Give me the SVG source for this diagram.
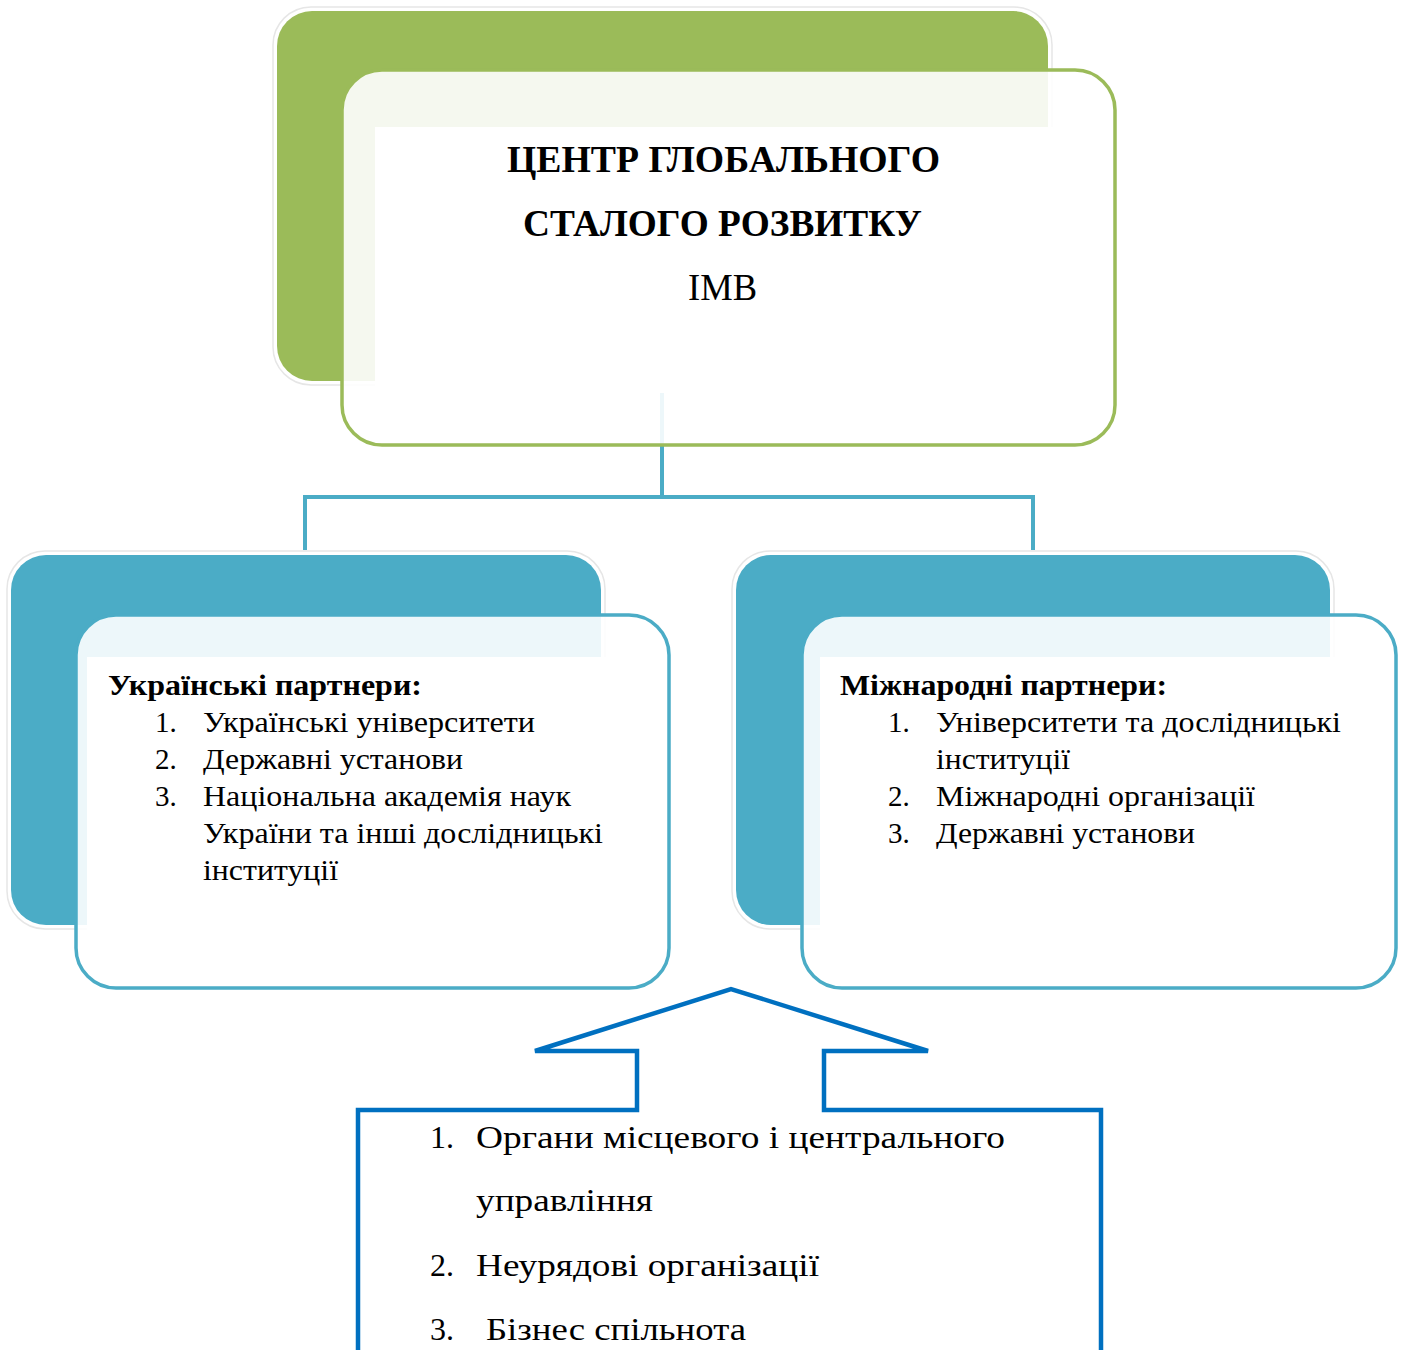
<svg xmlns="http://www.w3.org/2000/svg" width="1405" height="1350" viewBox="0 0 1405 1350">
<style>
  .t { font-family: "Liberation Serif", "Times New Roman", serif; fill: #000; }
  .b { font-weight: bold; }
  .h1 { font-size: 37px; }
  .s { font-size: 29px; }
  .m { font-size: 32px; }
  .halo { fill: none; stroke: #e6e6e6; stroke-width: 1.5; }
  .conn { fill: none; stroke: #4bacc6; stroke-width: 4; }
</style>
<rect width="1405" height="1350" fill="#fff"/>

<g id="connectors">
  <path class="conn" d="M662 393 V497 M305 550 V497 H1033 V550"/>
</g>

<g id="node-center">
  <rect class="halo" x="273" y="7" width="779" height="378" rx="38"/>
  <rect x="277" y="11" width="771" height="370" rx="35" fill="#9bbb59"/>
  <rect x="342" y="70" width="773" height="375" rx="40" fill="#fff" fill-opacity="0.9" stroke="#9bbb59" stroke-width="3.5"/>
  <rect x="375" y="127" width="700" height="265" fill="#fff"/>
  <text class="t b h1" x="507" y="172" textLength="433" lengthAdjust="spacingAndGlyphs">ЦЕНТР ГЛОБАЛЬНОГО</text>
  <text class="t b h1" x="523" y="236" textLength="399" lengthAdjust="spacingAndGlyphs">СТАЛОГО РОЗВИТКУ</text>
  <text class="t h1" x="688" y="300" textLength="69" lengthAdjust="spacingAndGlyphs">IMB</text>
</g>

<g id="node-ukrainian">
  <rect class="halo" x="7" y="551" width="598" height="378" rx="38"/>
  <rect x="11" y="555" width="590" height="370" rx="35" fill="#4bacc6"/>
  <rect x="76" y="615" width="593" height="373" rx="40" fill="#fff" fill-opacity="0.9" stroke="#4bacc6" stroke-width="3.5"/>
  <rect x="87" y="657" width="575" height="275" fill="#fff"/>
  <text class="t b s" x="108" y="695" textLength="314" lengthAdjust="spacingAndGlyphs">Українські партнери:</text>
  <text class="t s" x="155" y="732">1.</text>
  <text class="t s" x="203" y="732" textLength="332" lengthAdjust="spacingAndGlyphs">Українські університети</text>
  <text class="t s" x="155" y="769">2.</text>
  <text class="t s" x="203" y="769" textLength="260" lengthAdjust="spacingAndGlyphs">Державні установи</text>
  <text class="t s" x="155" y="806">3.</text>
  <text class="t s" x="203" y="806" textLength="368" lengthAdjust="spacingAndGlyphs">Національна академія наук</text>
  <text class="t s" x="203" y="843" textLength="400" lengthAdjust="spacingAndGlyphs">України та інші дослідницькі</text>
  <text class="t s" x="203" y="880" textLength="135" lengthAdjust="spacingAndGlyphs">інституції</text>
</g>

<g id="node-international">
  <rect class="halo" x="732" y="551" width="602" height="378" rx="38"/>
  <rect x="736" y="555" width="594" height="370" rx="35" fill="#4bacc6"/>
  <rect x="802" y="615" width="594" height="373" rx="40" fill="#fff" fill-opacity="0.9" stroke="#4bacc6" stroke-width="3.5"/>
  <rect x="820" y="657" width="570" height="275" fill="#fff"/>
  <text class="t b s" x="840" y="695" textLength="327" lengthAdjust="spacingAndGlyphs">Міжнародні партнери:</text>
  <text class="t s" x="888" y="732">1.</text>
  <text class="t s" x="936" y="732" textLength="405" lengthAdjust="spacingAndGlyphs">Університети та дослідницькі</text>
  <text class="t s" x="936" y="769" textLength="134" lengthAdjust="spacingAndGlyphs">інституції</text>
  <text class="t s" x="888" y="806">2.</text>
  <text class="t s" x="936" y="806" textLength="319" lengthAdjust="spacingAndGlyphs">Міжнародні організації</text>
  <text class="t s" x="888" y="843">3.</text>
  <text class="t s" x="936" y="843" textLength="259" lengthAdjust="spacingAndGlyphs">Державні установи</text>
</g>

<g id="node-local">
  <path d="M358 1352 V1110 H637 V1051 H535 L731 989 L928 1051 H824 V1110 H1101 V1352" fill="#fff" stroke="#0070c0" stroke-width="4.5" stroke-linejoin="miter"/>
  <text class="t m" x="430" y="1148">1.</text>
  <text class="t m" x="476" y="1148" textLength="529" lengthAdjust="spacingAndGlyphs">Органи місцевого і центрального</text>
  <text class="t m" x="476" y="1211" textLength="177" lengthAdjust="spacingAndGlyphs">управління</text>
  <text class="t m" x="430" y="1276">2.</text>
  <text class="t m" x="476" y="1276" textLength="343" lengthAdjust="spacingAndGlyphs">Неурядові організації</text>
  <text class="t m" x="430" y="1340">3.</text>
  <text class="t m" x="486" y="1340" textLength="260" lengthAdjust="spacingAndGlyphs">Бізнес спільнота</text>
</g>
</svg>
